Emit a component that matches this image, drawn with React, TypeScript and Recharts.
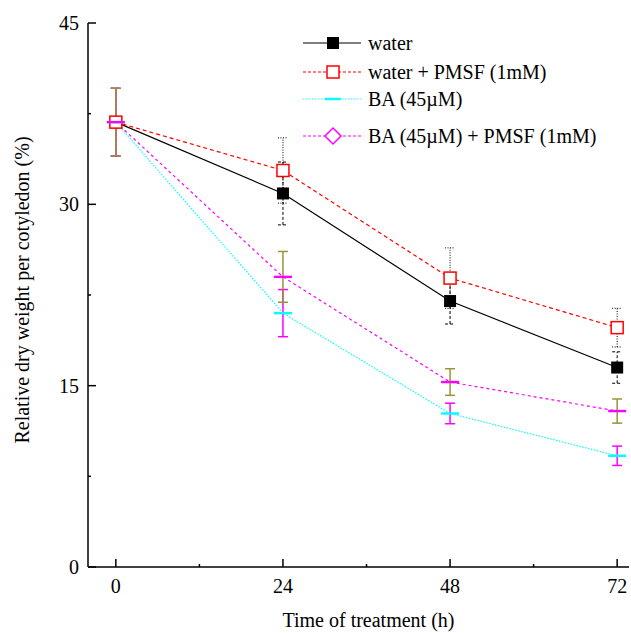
import React from 'react'
import {
  LineChart,
  Line,
  XAxis,
  YAxis,
  ErrorBar,
  Legend,
} from 'recharts'

// hours after treatment
const hours = [0, 24, 48, 72]

// relative dry weight (%) and standard errors
const water = [36.8, 30.9, 22.0, 16.5]
const waterErr = [2.8, 2.6, 1.9, 1.3]
const waterPmsf = [36.8, 32.8, 23.9, 19.8]
const waterPmsfErr = [2.8, 2.7, 2.5, 1.6]
const ba = [36.8, 21.0, 12.7, 9.2]
const baErr = [2.8, 1.95, 0.85, 0.8]
const baPmsf = [36.8, 24.0, 15.3, 12.9]
const baPmsfErr = [2.8, 2.1, 1.1, 1.0]

const xTicks = [0, 12, 24, 36, 48, 60, 72]
const yTicks = [0, 7.5, 15, 22.5, 30, 37.5, 45]

const seriesNames = [
  'water',
  'water + PMSF (1mM)',
  'BA (45\u00b5M)',
  'BA (45\u00b5M) + PMSF (1mM)',
]

const data = hours.map((h, i) => ({
  h,
  water: water[i],
  waterErr: waterErr[i],
  waterPmsf: waterPmsf[i],
  waterPmsfErr: waterPmsfErr[i],
  ba: ba[i],
  baErr: baErr[i],
  baPmsf: baPmsf[i],
  baPmsfErr: baPmsfErr[i],
}))

const FONT = "'Liberation Serif', 'Times New Roman', serif"
const textStyle = { fontFamily: FONT, fontSize: 20, }

const BottomTick = ({ x, y, payload, }: any) => {
  const major = payload.value % 24 === 0
  return (
    <g>
      <line x1={x} x2={x} y1={y} y2={y - (major ? 8 : 3)} stroke='#000' strokeWidth={1.5} />
      {major && (
        <text x={x} y={y + 26} textAnchor='middle' style={textStyle} fill='#000'>
          {payload.value}
        </text>
      )}
    </g>
  )
}

const TopTick = ({ x, y, }: any) => (
  <line x1={x} x2={x} y1={y} y2={y + 4} stroke='#000' strokeWidth={1} />
)

const LeftTick = ({ x, y, payload, }: any) => {
  const major = payload.value % 15 === 0
  return (
    <g>
      <line x1={x} x2={x + (major ? 8 : 3)} y1={y} y2={y} stroke='#000' strokeWidth={1.5} />
      {major && (
        <text x={x - 9} y={y + 7} textAnchor='end' style={textStyle} fill='#000'>
          {payload.value}
        </text>
      )}
    </g>
  )
}

const YTitle = ({ viewBox, }: any) => {
  const cx = viewBox.x + 29
  const cy = viewBox.y + viewBox.height / 2 - 5
  return (
    <text
      x={cx}
      y={cy}
      transform={`rotate(-90, ${cx}, ${cy})`}
      textAnchor='middle'
      style={textStyle}
      fill='#000'
    >
      Relative dry weight per cotyledon (%)
    </text>
  )
}

const XTitle = ({ viewBox, }: any) => (
  <text
    x={viewBox.x + viewBox.width / 2 + 10}
    y={viewBox.y + 60}
    textAnchor='middle'
    style={textStyle}
    fill='#000'
  >
    Time of treatment (h)
  </text>
)

// markers
const filledSquare = (p: any) => (
  <rect key={`ws-${p.index}`} x={p.cx - 6} y={p.cy - 6} width={12} height={12} fill='#000' />
)
const openSquare = (p: any) => (
  <rect key={`ps-${p.index}`} x={p.cx - 6} y={p.cy - 6} width={12} height={12} fill='#fff' stroke='#ff0000' strokeWidth={1.5} />
)
const dash = (color: string, prefix: string) => (p: any) => (
  <rect key={`${prefix}-${p.index}`} x={p.cx - 9} y={p.cy - 1.2} width={18} height={2.4} fill={color} />
)

const LegendBox = () => {
  const rows = [15, 44, 71, 108]
  const x1 = 3
  const x2 = 61
  const mx = 33
  return (
    <svg width={330} height={125} style={{ display: 'block', }}>
      <line x1={x1} x2={x2} y1={rows[0]} y2={rows[0]} stroke='#000' strokeWidth={1.2} />
      <rect x={mx - 6} y={rows[0] - 6} width={12} height={12} fill='#000' />
      <line x1={x1} x2={x2} y1={rows[1]} y2={rows[1]} stroke='#ff0000' strokeWidth={1.2} strokeDasharray='3 2' />
      <rect x={mx - 6} y={rows[1] - 6} width={12} height={12} fill='#fff' stroke='#ff0000' strokeWidth={1.5} />
      <line x1={x1} x2={x2} y1={rows[2]} y2={rows[2]} stroke='#00ffff' strokeWidth={1.2} strokeDasharray='1.5 1.5' />
      <rect x={mx - 8} y={rows[2] - 1.2} width={16} height={2.4} fill='#00ffff' />
      <line x1={x1} x2={x2} y1={rows[3]} y2={rows[3]} stroke='#ff00ff' strokeWidth={1.2} strokeDasharray='3 2' />
      <polygon
        points={`${mx},${rows[3] - 8} ${mx + 8},${rows[3]} ${mx},${rows[3] + 8} ${mx - 8},${rows[3]}`}
        fill='#fff'
        stroke='#ff00ff'
        strokeWidth={1.5}
      />
      {seriesNames.map((name, i) => (
        <text key={name} x={68} y={rows[i] + 7} style={textStyle} fill='#000'>
          {name}
        </text>
      ))}
    </svg>
  )
}

export default function App() {
  return (
    <div style={{ position: 'absolute', left: 0, top: 0, background: '#fff', }}>
      <LineChart
        width={631}
        height={633}
        data={data}
        margin={{ top: 23, right: 2, bottom: 0, left: 0, }}
      >
        <XAxis
          dataKey='h'
          type='number'
          domain={[-4, 73.7]}
          ticks={xTicks}
          tick={<BottomTick />}
          tickLine={false}
          tickSize={0}
          tickMargin={0}
          height={66}
          axisLine={{ stroke: '#000', strokeWidth: 1.5, }}
          label={<XTitle />}
        />
        <XAxis
          xAxisId='top'
          orientation='top'
          dataKey='h'
          type='number'
          domain={[-4, 73.7]}
          ticks={xTicks}
          tick={<TopTick />}
          tickLine={false}
          tickSize={0}
          tickMargin={0}
          height={0}
          axisLine={{ stroke: '#000', strokeWidth: 1.5, }}
        />
        <YAxis
          type='number'
          domain={[0, 45]}
          ticks={yTicks}
          tick={<LeftTick />}
          tickLine={false}
          tickSize={0}
          tickMargin={0}
          width={88}
          axisLine={{ stroke: '#000', strokeWidth: 1.5, }}
          label={<YTitle />}
        />
        <YAxis
          yAxisId='right'
          orientation='right'
          type='number'
          domain={[0, 45]}
          ticks={[]}
          tick={false}
          tickLine={false}
          width={0}
          axisLine={{ stroke: '#000', strokeWidth: 1.5, }}
        />
        <Legend
          layout='vertical'
          align='center'
          verticalAlign='middle'
          content={() => <LegendBox />}
          wrapperStyle={{ left: 300, top: 28, width: 330, height: 125, }}
        />
        <Line
          dataKey='water'
          name={seriesNames[0]}
          stroke='#000'
          strokeWidth={1.2}
          dot={filledSquare}
          isAnimationActive={false}
        >
          <ErrorBar dataKey='waterErr' direction='y' width={5} stroke='#000' strokeWidth={1} strokeDasharray='3 2' />
        </Line>
        <Line
          dataKey='waterPmsf'
          name={seriesNames[1]}
          stroke='#ff0000'
          strokeWidth={1.2}
          strokeDasharray='4 3'
          dot={openSquare}
          isAnimationActive={false}
        >
          <ErrorBar dataKey='waterPmsfErr' direction='y' width={5} stroke='#000' strokeWidth={1} strokeDasharray='1 1.5' />
        </Line>
        <Line
          dataKey='ba'
          name={seriesNames[2]}
          stroke='#00ffff'
          strokeWidth={1.2}
          strokeDasharray='1.5 1.5'
          dot={dash('#00ffff', 'ba')}
          isAnimationActive={false}
        >
          <ErrorBar dataKey='baErr' direction='y' width={5} stroke='#ff00ff' strokeWidth={1.5} />
        </Line>
        <Line
          dataKey='baPmsf'
          name={seriesNames[3]}
          stroke='#ff00ff'
          strokeWidth={1.2}
          strokeDasharray='3 3'
          dot={dash('#ff00ff', 'bp')}
          isAnimationActive={false}
        >
          <ErrorBar dataKey='baPmsfErr' direction='y' width={5} stroke='#99933a' strokeWidth={1.5} />
        </Line>
      </LineChart>
    </div>
  )
}
